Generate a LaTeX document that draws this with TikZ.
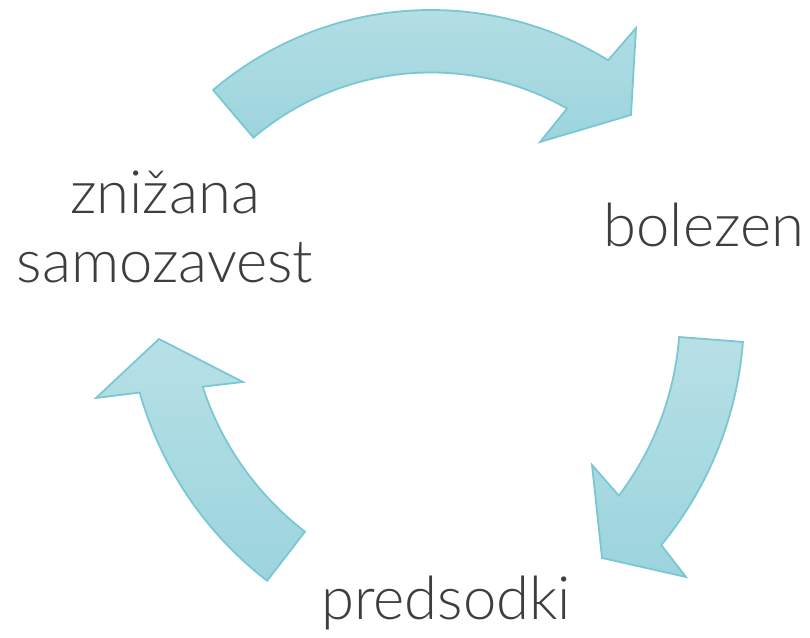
\documentclass[tikz,border=0pt]{standalone}
\usepackage{fontspec}
\IfFontExistsTF{Lato Light}{\setmainfont{Lato Light}}{\setmainfont{Carlito}}
\usepackage{tikz}
\usetikzlibrary{calc}
\definecolor{arrowtop}{RGB}{183,224,230}
\definecolor{arrowbot}{RGB}{156,212,221}
\definecolor{arrowline}{RGB}{120,199,210}
\definecolor{labeltext}{RGB}{62,62,62}
\tikzstyle{cyclearrow} = [draw=arrowline, line width=0.5pt, top color=arrowtop,
    bottom color=arrowbot, line join=miter]
\tikzstyle{cyclelabel} = [text=labeltext, font=\fontsize{17}{19.4}\selectfont,
    align=center, inner sep=0pt]

\begin{document}
\begin{tikzpicture}[x=0.01cm, y=0.01cm]
    \useasboundingbox (0,0) rectangle (810,637);
    \coordinate (topc) at (431,290);
    \coordinate (rightc) at (380,323);
    \coordinate (leftc) at (488,343);

    \node [cyclelabel, anchor=center] (selfesteem) at (165,410) {znižana\\samozavest};
    \node [cyclelabel, anchor=base] (illness) at (704,390) {bolezen};
    \node [cyclelabel, anchor=base] (prejudice) at (446,18) {predsodki};

    % Draw arrows
    \path [cyclearrow] ($(topc)+(130.3:337)$) arc[start angle=130.3, end angle=58.3, radius=337]
        -- (636,609) -- (631,522) -- (540,495)
        -- ($(topc)+(60.3:274.5)$) arc[start angle=60.3, end angle=130.3, radius=274.5] -- cycle;
    \path [cyclearrow] ($(rightc)+(-4.4:364)$) arc[start angle=-4.4, end angle=-39.4, radius=364]
        -- (686,60) -- (602,79) -- (592,172)
        -- ($(rightc)+(-37.25:300)$) arc[start angle=-37.25, end angle=-4.4, radius=300] -- cycle;
    \path [cyclearrow] ($(leftc)+(232.4:362)$) arc[start angle=232.4, end angle=195.8, radius=362]
        -- (96,239) -- (159,298) -- (243,255)
        -- ($(leftc)+(198:300)$) arc[start angle=198, end angle=232.4, radius=300] -- cycle;
\end{tikzpicture}
\end{document}
